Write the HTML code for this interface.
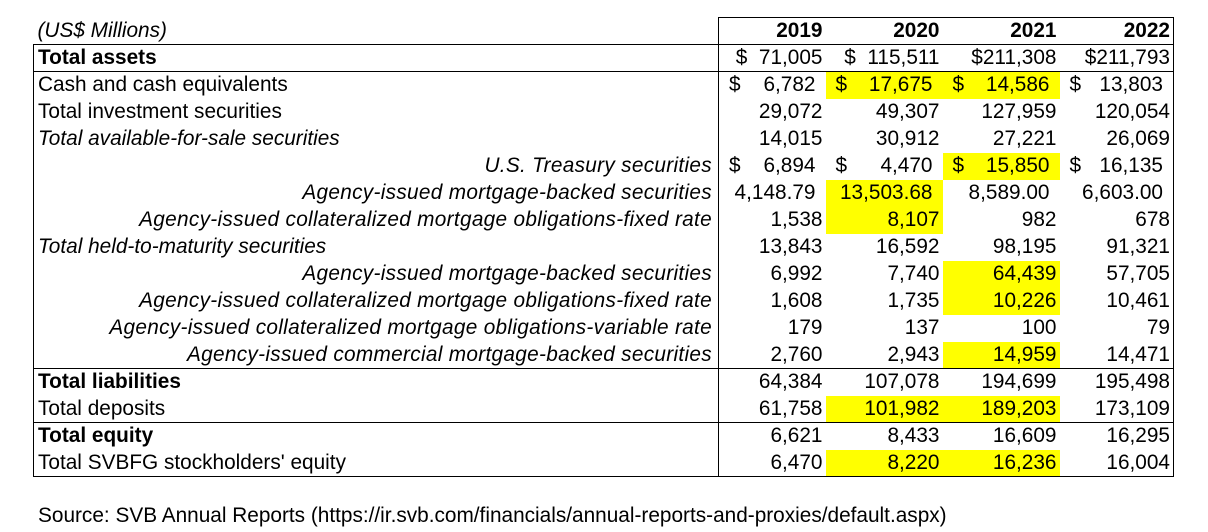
<!DOCTYPE html>
<html><head><meta charset="utf-8"><style>
body{margin:0;width:1208px;height:532px;background:#fff;font-family:"Liberation Sans",Arial,sans-serif;font-size:20.8px;color:#000;position:relative;overflow:hidden}
table{position:absolute;left:33px;top:17px;border-collapse:collapse;table-layout:fixed}
td{height:27px;padding:0 3px 0 4px;white-space:nowrap;line-height:26px;box-sizing:border-box;overflow:visible}
tr{height:27px}
td.n{text-align:right}
td.a{text-align:right;padding-right:10px;position:relative}
td.a span{position:absolute;left:10px}
.y{background:#ffff00}
.i{font-style:italic}
.r{text-align:right;padding-right:6px;letter-spacing:0.3px}
.b{font-weight:bold}
.L{border-left:1px solid #000}
.R{border-right:1px solid #000}
.B td{border-bottom:1px solid #000}
.src{position:absolute;left:38px;top:504px;font-size:20.8px}
</style></head><body>
<table>
<colgroup><col style="width:685px"><col style="width:107px"><col style="width:117px"><col style="width:117px"><col style="width:114px"></colgroup>
<tr class="B"><td class="i">(US$ Millions)</td><td class="n b L" style="border-top:1px solid #000">2019</td><td class="n b" style="border-top:1px solid #000">2020</td><td class="n b" style="border-top:1px solid #000">2021</td><td class="n b R" style="border-top:1px solid #000">2022</td></tr>
<tr class="B"><td class="b L">Total assets</td><td class="n L">$&nbsp; 71,005</td><td class="n">$&nbsp; 115,511</td><td class="n">$211,308</td><td class="n R">$211,793</td></tr>
<tr><td class="L">Cash and cash equivalents</td><td class="a L"><span>$</span>6,782</td><td class="a y"><span>$</span>17,675</td><td class="a y"><span>$</span>14,586</td><td class="a R"><span>$</span>13,803</td></tr>
<tr><td class="L">Total investment securities</td><td class="n L">29,072</td><td class="n">49,307</td><td class="n">127,959</td><td class="n R">120,054</td></tr>
<tr><td class="L i">Total available-for-sale securities</td><td class="n L">14,015</td><td class="n">30,912</td><td class="n">27,221</td><td class="n R">26,069</td></tr>
<tr><td class="L i r">U.S. Treasury securities</td><td class="a L"><span>$</span>6,894</td><td class="a"><span>$</span>4,470</td><td class="a y"><span>$</span>15,850</td><td class="a R"><span>$</span>16,135</td></tr>
<tr><td class="L i r">Agency-issued mortgage-backed securities</td><td class="a L">4,148.79</td><td class="a y">13,503.68</td><td class="a">8,589.00</td><td class="a R">6,603.00</td></tr>
<tr><td class="L i r">Agency-issued collateralized mortgage obligations-fixed rate</td><td class="n L">1,538</td><td class="n y">8,107</td><td class="n">982</td><td class="n R">678</td></tr>
<tr><td class="L i">Total held-to-maturity securities</td><td class="n L">13,843</td><td class="n">16,592</td><td class="n">98,195</td><td class="n R">91,321</td></tr>
<tr><td class="L i r">Agency-issued mortgage-backed securities</td><td class="n L">6,992</td><td class="n">7,740</td><td class="n y">64,439</td><td class="n R">57,705</td></tr>
<tr><td class="L i r">Agency-issued collateralized mortgage obligations-fixed rate</td><td class="n L">1,608</td><td class="n">1,735</td><td class="n y">10,226</td><td class="n R">10,461</td></tr>
<tr><td class="L i r">Agency-issued collateralized mortgage obligations-variable rate</td><td class="n L">179</td><td class="n">137</td><td class="n">100</td><td class="n R">79</td></tr>
<tr class="B"><td class="L i r">Agency-issued commercial mortgage-backed securities</td><td class="n L">2,760</td><td class="n">2,943</td><td class="n y">14,959</td><td class="n R">14,471</td></tr>
<tr><td class="L b">Total liabilities</td><td class="n L">64,384</td><td class="n">107,078</td><td class="n">194,699</td><td class="n R">195,498</td></tr>
<tr class="B"><td class="L">Total deposits</td><td class="n L">61,758</td><td class="n y">101,982</td><td class="n y">189,203</td><td class="n R">173,109</td></tr>
<tr><td class="L b">Total equity</td><td class="n L">6,621</td><td class="n">8,433</td><td class="n">16,609</td><td class="n R">16,295</td></tr>
<tr class="B"><td class="L">Total SVBFG stockholders' equity</td><td class="n L">6,470</td><td class="n y">8,220</td><td class="n y">16,236</td><td class="n R">16,004</td></tr>
</table>
<div class="src">Source: SVB Annual Reports (https://ir.svb.com/financials/annual-reports-and-proxies/default.aspx)</div>
</body></html>
